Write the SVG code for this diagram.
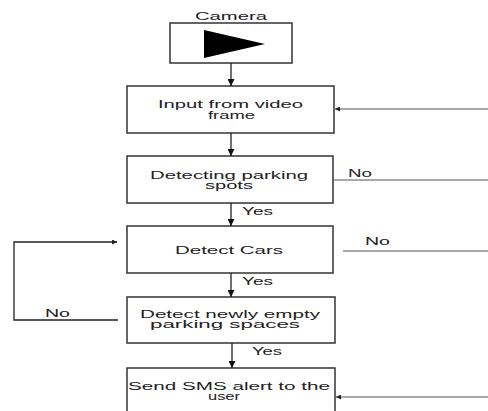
<svg xmlns="http://www.w3.org/2000/svg" width="488" height="411" viewBox="0 0 488 411">
<defs>
<marker id="ah" viewBox="0 0 10 10" refX="10" refY="5" markerWidth="7" markerHeight="7" markerUnits="userSpaceOnUse" orient="auto">
<path d="M0,0 L10,5 L0,10 Z" fill="#111"/>
</marker>
<marker id="ahs" viewBox="0 0 10 10" refX="10" refY="5" markerWidth="9" markerHeight="5" markerUnits="userSpaceOnUse" orient="auto">
<path d="M0,0 L10,5 L0,10 Z" fill="#222"/>
</marker>
</defs>
<style>
.box{fill:#fff;stroke:#333;stroke-width:1.5}
.t{font-family:"Liberation Sans",Arial,sans-serif;font-size:10px;fill:#222}
.c{fill:none;stroke:#222;stroke-width:1.3}
.g{fill:none;stroke:#555;stroke-width:1}
</style>
<rect width="488" height="411" fill="#fff"/>
<g id="camera">
<text class="t" x="195" y="20" textLength="72" lengthAdjust="spacingAndGlyphs">Camera</text>
<rect class="box" x="170" y="23" width="122" height="40"/>
<path d="M204,30 L265,44 L204,58 Z" fill="#000"/>
</g>
<g id="input">
<rect class="box" x="127" y="86" width="207" height="47"/>
<text class="t" x="158" y="108" textLength="145" lengthAdjust="spacingAndGlyphs">Input from video</text>
<text class="t" x="208" y="119" textLength="47" lengthAdjust="spacingAndGlyphs">frame</text>
</g>
<g id="detecting">
<rect class="box" x="127" y="156" width="206" height="47"/>
<text class="t" x="150" y="179" textLength="158" lengthAdjust="spacingAndGlyphs">Detecting parking</text>
<text class="t" x="205" y="189" textLength="48" lengthAdjust="spacingAndGlyphs">spots</text>
</g>
<g id="cars">
<rect class="box" x="127" y="226" width="206" height="47"/>
<text class="t" x="175" y="254" textLength="108" lengthAdjust="spacingAndGlyphs">Detect Cars</text>
</g>
<g id="empty">
<rect class="box" x="127" y="297" width="208" height="46"/>
<text class="t" x="140" y="318" textLength="180" lengthAdjust="spacingAndGlyphs">Detect newly empty</text>
<text class="t" x="150" y="328" textLength="150" lengthAdjust="spacingAndGlyphs">parking spaces</text>
</g>
<g id="sms">
<rect class="box" x="127" y="368" width="208" height="50"/>
<text class="t" x="128" y="390" textLength="202" lengthAdjust="spacingAndGlyphs">Send SMS alert to the</text>
<text class="t" x="208" y="400" textLength="32" lengthAdjust="spacingAndGlyphs">user</text>
</g>
<g id="connectors">
<line class="c" x1="231" y1="63" x2="231" y2="86" marker-end="url(#ah)"/>
<line class="c" x1="231" y1="133" x2="231" y2="156" marker-end="url(#ah)"/>
<line class="c" x1="231" y1="203" x2="231" y2="226" marker-end="url(#ah)"/>
<line class="c" x1="231" y1="273" x2="231" y2="297" marker-end="url(#ah)"/>
<line class="c" x1="232" y1="343" x2="232" y2="368" marker-end="url(#ah)"/>
<line class="g" x1="488" y1="109" x2="335" y2="109" marker-end="url(#ahs)"/>
<line class="g" x1="333" y1="180" x2="488" y2="180"/>
<line class="g" x1="343" y1="251" x2="488" y2="251"/>
<line class="g" x1="488" y1="397" x2="336" y2="397" marker-end="url(#ahs)"/>
<polyline class="c" points="118,320 14,320 14,242 117,242" marker-end="url(#ahs)"/>
<text class="t" x="348" y="177" textLength="24" lengthAdjust="spacingAndGlyphs">No</text>
<text class="t" x="242" y="215" textLength="31" lengthAdjust="spacingAndGlyphs">Yes</text>
<text class="t" x="365" y="245" textLength="25" lengthAdjust="spacingAndGlyphs">No</text>
<text class="t" x="242" y="285" textLength="31" lengthAdjust="spacingAndGlyphs">Yes</text>
<text class="t" x="45" y="317" textLength="25" lengthAdjust="spacingAndGlyphs">No</text>
<text class="t" x="252" y="355" textLength="30" lengthAdjust="spacingAndGlyphs">Yes</text>
</g>
</svg>
